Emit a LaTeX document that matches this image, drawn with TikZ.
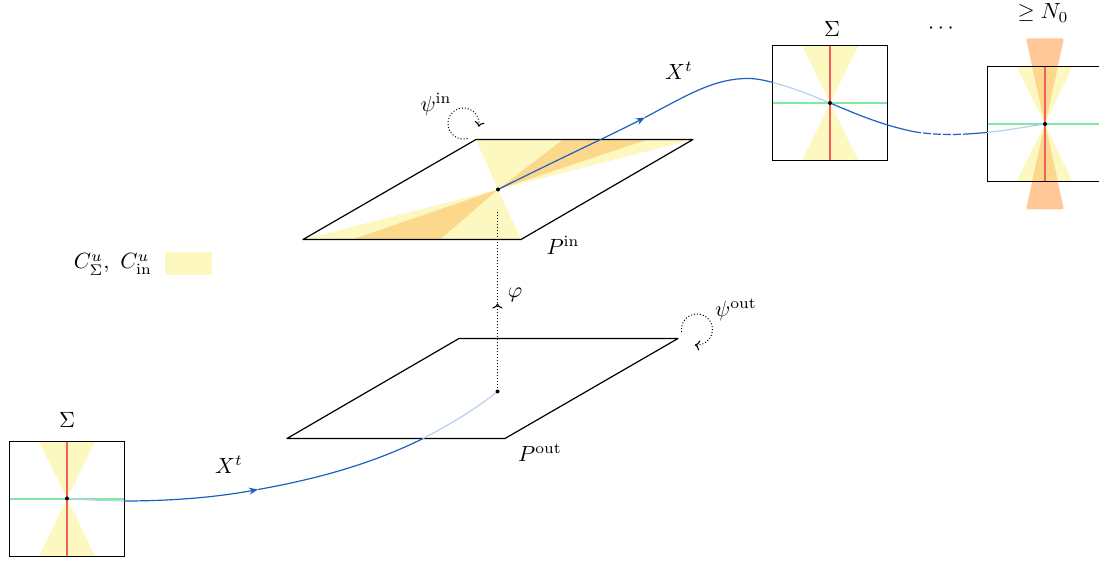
\documentclass[tikz,border=0pt]{standalone}
\usetikzlibrary{arrows.meta}
\definecolor{cyel}{RGB}{252,248,192}
\definecolor{corg}{RGB}{252,216,140}
\definecolor{corb}{RGB}{255,200,150}
\definecolor{cred}{RGB}{240,96,96}
\definecolor{cgrn}{RGB}{128,232,160}
\definecolor{cblu}{RGB}{30,95,190}
\definecolor{clig}{RGB}{184,208,236}
\tikzset{
  edgeline/.style={black,line width=0.6pt},
  dark/.style={cblu,line width=0.6pt},
  lite/.style={clig,line width=0.6pt},
  redline/.style={cred,line width=0.75pt},
  grnline/.style={cgrn,line width=0.75pt},
  dotline/.style={black,line width=0.5pt,dash pattern=on 0.5pt off 1pt},
  tipcm/.style={-{Computer Modern Rightarrow[length=2.5pt,width=5pt,line width=0.55pt]}},
  tipbl/.style={-{Stealth[length=4.5pt,width=3.5pt]}},
  pt/.style={circle,fill=black,inner sep=0pt,minimum size=2pt},
  lbl/.style={inner sep=0pt,text=black,scale=1.1},
  boxnode/.style={draw=black,line width=0.6pt,inner sep=0pt,minimum size=57.5pt}
}
\begin{document}
\begin{tikzpicture}[x=0.5pt,y=-0.5pt]
\useasboundingbox (0,-0.5) rectangle (1099,560.5);
% coordinates
\coordinate (A1) at (476,139);\coordinate (A2) at (693,139);\coordinate (A3) at (521,239);\coordinate (A4) at (303,239);
\coordinate (B1) at (459,338);\coordinate (B2) at (678,338);\coordinate (B3) at (505,438);\coordinate (B4) at (287,438);
\coordinate (cin) at (498,189);\coordinate (cout) at (497.5,391);
\coordinate (cL) at (67,498);\coordinate (cM) at (830,102.5);\coordinate (cR) at (1045,123.5);
\coordinate (boxLc) at (67,498.5);\coordinate (boxMc) at (830,102.5);\coordinate (boxRc) at (1045,123.5);
% Pin cones
\fill[cyel] (cin) -- (A1) -- (A2) -- cycle;
\fill[cyel] (cin) -- (A3) -- (A4) -- cycle;
\fill[corg] (cin) -- (563,139) -- (648,139) -- cycle;
\fill[corg] (cin) -- (440,239) -- (352,239) -- cycle;
\draw[edgeline,line join=round] (A1) -- (A2) -- (A3) -- (A4) -- cycle;
\draw[edgeline,line join=round] (B1) -- (B2) -- (B3) -- (B4) -- cycle;
% left box
\fill[cyel] (cL) -- (39,441) -- (95,441) -- cycle;
\fill[cyel] (cL) -- (39,556) -- (95,556) -- cycle;
\draw[redline] (67,441) -- (67,556);
\draw[grnline] (9.5,498.5) -- (124.5,498.5);
\node[boxnode] (boxL) at (boxLc) {};
% middle box
\fill[cyel] (cM) -- (802,45) -- (858.5,45) -- cycle;
\fill[cyel] (cM) -- (802,160) -- (858.5,160) -- cycle;
\draw[redline] (830,45) -- (830,160);
\draw[grnline] (772.5,102.5) -- (887.5,102.5);
\node[boxnode] (boxM) at (boxMc) {};
% right box
\fill[cyel] (cR) -- (1016.5,66) -- (1072.5,66) -- cycle;
\fill[cyel] (cR) -- (1016.5,181) -- (1072.5,181) -- cycle;
\fill[corb,rounded corners=1pt] (cR) -- (1026,38) -- (1064,38) -- cycle;
\fill[corb,rounded corners=1pt] (cR) -- (1026,209) -- (1064,209) -- cycle;
\begin{scope}
\clip (987,66) rectangle (1103,181);
\fill[corg] (cR) -- (1026,38) -- (1064,38) -- cycle;
\fill[corg] (cR) -- (1026,209) -- (1064,209) -- cycle;
\end{scope}
\draw[redline] (1045,66) -- (1045,181);
\draw[grnline] (987.5,123.5) -- (1103,123.5);
\node[boxnode] (boxR) at (boxRc) {};
% lower flow
\coordinate (f1) at (124,500.5);\coordinate (f2) at (258,489);\coordinate (f3) at (423,438);
\draw[lite] (cL) .. controls (85,499.5) and (105,500) .. (f1);
\draw[dark,tipbl] (f1) .. controls (170,500.5) and (215,497) .. (f2);
\draw[dark] (f2) .. controls (320,478) and (375,462) .. (f3);
\draw[lite] (f3) .. controls (450,424) and (475,409) .. (cout);
% upper flow
\coordinate (g1) at (645,117);\coordinate (g2) at (748,78);\coordinate (g3) at (773,82);
\coordinate (g4) at (913,131);\coordinate (g5) at (967,133.5);\coordinate (g6) at (987,132);
\draw[dark,tipbl] (cin) .. controls (560,158) and (610,135) .. (g1);
\draw[dark] (g1) .. controls (690,93) and (715,78) .. (g2) .. controls (757,78) and (765,80) .. (g3);
\draw[lite] (g3) .. controls (795,88) and (812,95) .. (cM);
\draw[dark] (cM) .. controls (855,113) and (880,124) .. (g4);
\draw[dark,dash pattern=on 4pt off 1pt] (g4) .. controls (930,134) and (950,134.5) .. (g5);
\draw[dark] (g5) -- (g6);
\draw[lite] (g6) .. controls (1005,130) and (1025,126.5) .. (cR);
% phi
\coordinate (phitip) at (497.5,303);\coordinate (phitop) at (497.5,210);
\draw[dotline,tipcm] (cout) -- (phitip);
\draw[dotline] (phitip) -- (phitop);
% return loops
\coordinate (li) at (467.5,138);\coordinate (lo) at (681.7,331.7);
\draw[dotline,tipcm] (li) arc[start angle=75,end angle=372,radius=15.5];
\draw[dotline,tipcm] (lo) arc[start angle=170,end angle=458,radius=15.5];
% points
\node[pt] (pin) at (cin) {};\node[pt] (pout) at (cout) {};
\node[pt] (pL) at (cL) {};\node[pt] (pM) at (cM) {};\node[pt] (pR) at (cR) {};
% labels
\node[lbl] (t1) at (67,419) {$\Sigma$};
\node[lbl] (t2) at (832,28) {$\Sigma$};
\node[lbl] (t3) at (941,28) {$\cdots$};
\node[lbl] (t4) at (1043,12.5) {$\geq N_0$};
\node[lbl] (t5) at (679,70) {$X^t$};
\node[lbl] (t6) at (229,464) {$X^t$};
\node[lbl] (t7) at (436,104) {$\psi^{\mathrm{in}}$};
\node[lbl] (t8) at (736,309) {$\psi^{\mathrm{out}}$};
\node[lbl] (t9) at (563,245) {$P^{\mathrm{in}}$};
\node[lbl] (t10) at (540,452) {$P^{\mathrm{out}}$};
\node[lbl] (t11) at (515,294) {$\varphi$};
\node[lbl] (t12) at (113,264) {$C^u_{\Sigma},\ C^u_{\mathrm{in}}$};
\node[fill=cyel,inner sep=0pt,minimum width=23.5pt,minimum height=11.5pt] (leg) at (188.5,263.5) {};
\end{tikzpicture}
\end{document}
